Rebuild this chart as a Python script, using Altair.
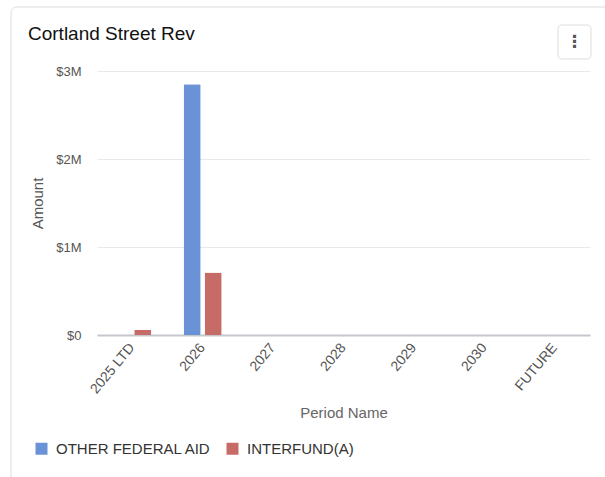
import altair as alt
import pandas as pd

# Revenue by period and funding source
periods = ["2025 LTD", "2026", "2027", "2028", "2029", "2030", "FUTURE"]
series = ["OTHER FEDERAL AID", "INTERFUND(A)"]
other_federal_aid = [0, 2850000, 0, 0, 0, 0, 0]
interfund_a = [60000, 710000, 0, 0, 0, 0, 0]
colors = ["#6a92d6", "#c76b67"]

rows = []
for i, p in enumerate(periods):
    rows.append({"Period Name": p, "Source": series[0], "Amount": other_federal_aid[i]})
    rows.append({"Period Name": p, "Source": series[1], "Amount": interfund_a[i]})
df = pd.DataFrame(rows)

W, H = 493, 264
FONT = "Liberation Sans"

bars = alt.Chart(df).mark_bar(cornerRadius=1).encode(
    x=alt.X(
        "Period Name:N",
        sort=periods,
        scale=alt.Scale(paddingInner=0.46, paddingOuter=0.23),
        axis=alt.Axis(
            labelAngle=-50,
            labelAlign="right",
            labelBaseline="middle",
            labelPadding=10,
            ticks=False,
            domainColor="#c4c7cc",
            domainWidth=2,
            labelColor="#555",
            labelFontSize=14,
            titleColor="#666",
            titleFontSize=15,
            titleFontWeight="normal",
            titlePadding=10,
            grid=False,
        ),
    ),
    xOffset=alt.XOffset("Source:N", sort=series, scale=alt.Scale(paddingInner=0.19)),
    y=alt.Y(
        "Amount:Q",
        scale=alt.Scale(domain=[0, 3000000]),
        axis=alt.Axis(
            values=[0, 1000000, 2000000, 3000000],
            labelExpr="datum.value == 0 ? '$0' : '$' + round(datum.value / 1000000) + 'M'",
            ticks=False,
            domain=False,
            labelPadding=16,
            labelColor="#555",
            labelFontSize=13,
            gridColor="#e8e8e8",
            titleColor="#555",
            titleFontSize=15,
            titleFontWeight="normal",
            titlePadding=10,
        ),
    ),
    color=alt.Color(
        "Source:N",
        sort=series,
        scale=alt.Scale(domain=series, range=colors),
        legend=alt.Legend(
            title=None,
            orient="none",
            legendX=-63,
            legendY=370,
            direction="horizontal",
            symbolType="square",
            symbolSize=144,
            symbolStrokeWidth=0,
            labelFontSize=15,
            labelColor="#333",
            columnPadding=13,
            labelOffset=7,
        ),
    ),
)

one = alt.Data(values=[{}])

# Card outline around the widget
card = alt.Chart(one).mark_rect(
    fill="transparent", stroke="#dcdcdc", strokeWidth=1, cornerRadius=6
).encode(
    x=alt.value(-86), x2=alt.value(520), y=alt.value(-64), y2=alt.value(420)
)

# Widget heading
heading = alt.Chart(one).mark_text(
    text="Cortland Street Rev", fontSize=19, color="#111", font=FONT,
    align="left", baseline="alphabetic"
).encode(x=alt.value(-69), y=alt.value(-31))

# Menu button in the top-right corner
button = alt.Chart(one).mark_rect(
    fill="white", stroke="#dcdcdc", strokeWidth=1, cornerRadius=4
).encode(
    x=alt.value(461), x2=alt.value(494), y=alt.value(-46), y2=alt.value(-12)
)
dots = alt.Chart(one).mark_text(
    text="⋮", fontSize=17, fontWeight="bold", color="#555", font="DejaVu Sans"
).encode(x=alt.value(477.5), y=alt.value(-29))

chart = alt.layer(card, heading, button, dots, bars).properties(
    width=W,
    height=H,
    padding={"left": 97, "top": 71, "right": 15, "bottom": 142},
    autosize=alt.AutoSizeParams(type="none"),
).configure(font=FONT).configure_view(stroke=None)

chart.save("out.html", embed_options={"renderer": "svg", "actions": False})
